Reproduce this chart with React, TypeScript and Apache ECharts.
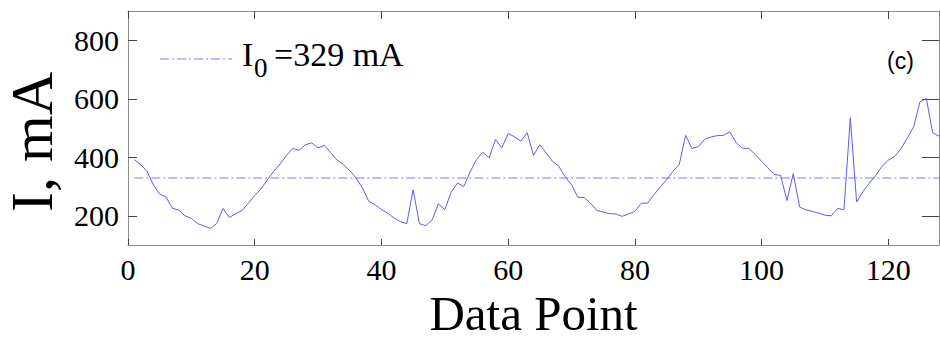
import React, { useEffect, useRef } from "react";
import * as echarts from "echarts";

const currentValues: number[] = [
  392, 375, 352, 306, 274, 264, 226, 219, 200, 191,
  173, 165, 157, 173, 225, 194, 207, 218, 243, 269,
  292, 323, 352, 377, 406, 430, 424, 443, 449, 432,
  441, 415, 390, 375, 354, 329, 295, 249, 238, 221,
  209, 192, 180, 173, 289, 173, 166, 186, 241, 221,
  280, 312, 300, 350, 392, 417, 398, 461, 432, 481,
  470, 455, 484, 406, 443, 415, 386, 369, 333, 306,
  263, 262, 243, 218, 213, 207, 206, 198, 206, 215,
  243, 243, 272, 298, 323, 352, 375, 475, 430, 436,
  461, 469, 474, 475, 487, 449, 431, 430, 409, 386,
  364, 341, 338, 252, 344, 230, 220, 215, 209, 202,
  200, 225, 221, 535, 247, 283, 312, 337, 369, 390,
  403, 429, 466, 504, 590, 601, 484, 472,
];
const I0 = 329;
const xTicks = [0, 20, 40, 60, 80, 100, 120];
const yTicks = [200, 400, 600, 800];
const xMin = 0;
const xMax = 128;
const yMin = 100;
const yMax = 900;
const yTitle = "I, mA";
const xTitle = "Data Point";

const SERIF = "'Liberation Serif', 'Times New Roman', serif";

export default function App() {
  const ref = useRef<HTMLDivElement>(null);
  useEffect(() => {
    if (!ref.current) return;
    const chart = echarts.init(ref.current, undefined, { renderer: "svg" });
    const frame = "#8c8c8c";
    const tickC = "#444";
    const lineData = currentValues.map((v, k) => [k + 1, v]);
    const refData = [
      [1, I0],
      [currentValues.length, I0],
    ];
    const xAxisBase = {
      type: "value" as const,
      min: xMin,
      max: xMax,
      splitLine: { show: false },
      axisLine: { show: true, onZero: false, lineStyle: { color: frame, width: 1 } },
    };
    const yAxisBase = {
      type: "value" as const,
      min: yMin,
      max: yMax,
      splitLine: { show: false },
      axisLine: { show: true, onZero: false, lineStyle: { color: frame, width: 1 } },
    };
    chart.setOption({
      animation: false,
      backgroundColor: "#ffffff",
      grid: {
        left: 128,
        right: 1,
        top: 11,
        bottom: 95,
        containLabel: false,
        outerBoundsMode: "none",
      },
      xAxis: [
        {
          ...xAxisBase,
          position: "bottom",
          name: xTitle,
          nameLocation: "middle",
          nameGap: 42,
          nameTextStyle: { fontFamily: SERIF, fontSize: 49, color: "#000" },
          axisTick: {
            show: true,
            inside: true,
            length: 6,
            customValues: xTicks,
            lineStyle: { color: tickC },
          },
          axisLabel: {
            show: true,
            margin: 9,
            fontFamily: SERIF,
            fontSize: 30,
            color: "#000",
            customValues: xTicks,
          },
        },
        {
          ...xAxisBase,
          position: "top",
          axisTick: {
            show: true,
            inside: true,
            length: 8,
            customValues: xTicks,
            lineStyle: { color: tickC },
          },
          axisLabel: { show: false },
        },
      ],
      yAxis: [
        {
          ...yAxisBase,
          position: "left",
          axisTick: {
            show: true,
            inside: true,
            length: 9,
            customValues: yTicks,
            lineStyle: { color: tickC },
          },
          axisLabel: {
            show: true,
            margin: 9,
            fontFamily: SERIF,
            fontSize: 30,
            color: "#000",
            customValues: yTicks,
          },
        },
        {
          ...yAxisBase,
          position: "right",
          axisTick: {
            show: true,
            inside: true,
            length: 17,
            customValues: yTicks,
            lineStyle: { color: tickC },
          },
          axisLabel: { show: false },
        },
      ],
      series: [
        {
          name: "I",
          type: "line",
          data: lineData,
          showSymbol: false,
          symbol: "none",
          lineStyle: { color: "#5a5aff", width: 1 },
          z: 3,
        },
        {
          name: "I0",
          type: "line",
          data: refData,
          showSymbol: false,
          symbol: "none",
          lineStyle: { color: "#7a7aff", width: 1, type: [9, 3, 2, 3] },
          z: 2,
        },
      ],
      graphic: [
        {
          type: "text",
          x: 32,
          y: 142,
          rotation: Math.PI / 2,
          style: {
            text: yTitle,
            font: `60px ${SERIF}`,
            lineHeight: 40,
            fill: "#000",
            verticalAlign: "middle",
            align: "center",
          },
        },
        {
          type: "line",
          shape: { x1: 160, y1: 59, x2: 232, y2: 59 },
          style: { stroke: "#7a7aff", lineWidth: 1, lineDash: [9, 3, 2, 3] },
        },
        {
          type: "text",
          x: 242,
          y: 54,
          style: {
            text: "I",
            font: `34px ${SERIF}`,
            fill: "#000",
            verticalAlign: "middle",
            align: "left",
          },
        },
        {
          type: "text",
          x: 254,
          y: 68,
          style: {
            text: "0",
            font: `27px ${SERIF}`,
            fill: "#000",
            verticalAlign: "middle",
            align: "left",
          },
        },
        {
          type: "text",
          x: 274,
          y: 54,
          style: {
            text: `=${I0} mA`,
            font: `34px ${SERIF}`,
            fill: "#000",
            verticalAlign: "middle",
            align: "left",
          },
        },
        {
          type: "text",
          x: 887,
          y: 61,
          style: {
            text: "(c)",
            font: `23px 'Liberation Sans', Arial, sans-serif`,
            fill: "#000",
            verticalAlign: "middle",
            align: "left",
          },
        },
      ],
    });
    return () => chart.dispose();
  }, []);
  return (
    <div
      ref={ref}
      style={{ position: "absolute", left: 0, top: 0, width: 940, height: 340 }}
    />
  );
}
